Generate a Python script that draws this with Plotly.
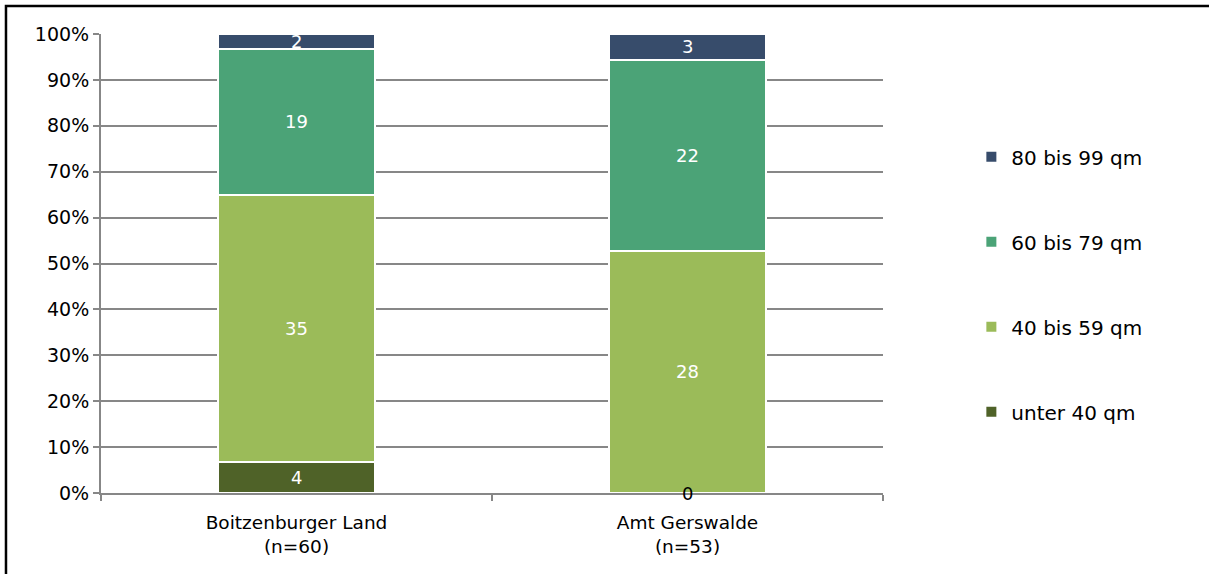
import plotly.graph_objects as go

categories = ["Boitzenburger Land<br>(n=60)", "Amt Gerswalde<br>(n=53)"]
series_names = ["unter 40 qm", "40 bis 59 qm", "60 bis 79 qm", "80 bis 99 qm"]
unter40 = [4, 0]
qm40_59 = [35, 28]
qm60_79 = [19, 22]
qm80_99 = [2, 3]
colors = ["#4F6228", "#9BBB59", "#4BA377", "#374C6B"]
y_ticks = [0, 10, 20, 30, 40, 50, 60, 70, 80, 90, 100]
y_tick_labels = [f"{v}%" for v in y_ticks]

series = [unter40, qm40_59, qm60_79, qm80_99]
totals = [sum(s[i] for s in series) for i in range(len(categories))]
pcts = [[v / totals[i] * 100 for i, v in enumerate(s)] for s in series]

FONT = "DejaVu Sans"
fig = go.Figure()
n = len(series_names)
for k, (name, p) in enumerate(zip(series_names, pcts)):
    fig.add_trace(go.Bar(
        x=categories, y=p, name=name,
        marker=dict(color=colors[k], line=dict(color="white", width=2)),
        legendgroup=name, legendrank=n - k, hoverinfo="skip",
    ))

annotations = []
for i, cat in enumerate(categories):
    base = 0
    for k, s in enumerate(series):
        p = pcts[k][i]
        annotations.append(dict(
            x=cat, y=base + p / 2, xref="x", yref="y", text=str(s[i]),
            showarrow=False,
            font=dict(family=FONT, size=18, color="white" if s[i] > 0 else "black"),
        ))
        base += p

fig.update_layout(
    barmode="stack", bargap=0.6,
    width=1209, height=574,
    margin=dict(l=101, r=326, t=34, b=81),
    paper_bgcolor="white", plot_bgcolor="white",
    font=dict(family=FONT, size=18, color="black"),
    showlegend=True,
    legend=dict(x=1.113, y=0.775, xanchor="left", yanchor="top",
                traceorder="grouped", tracegroupgap=56,
                font=dict(family=FONT, size=20), itemwidth=30),
    annotations=annotations,
    shapes=[dict(type="rect", xref="paper", yref="paper",
                 x0=-0.1215, x1=1.8, y0=1.061, y1=-0.5,
                 line=dict(color="black", width=2.5), layer="below")],
)
fig.update_yaxes(range=[0, 100], tickmode="array", tickvals=y_ticks,
                 ticktext=y_tick_labels,
                 showgrid=True, gridcolor="#878787", gridwidth=2,
                 showline=True, linecolor="#878787", linewidth=2,
                 ticks="outside", ticklen=6, tickcolor="#878787", tickwidth=2,
                 zeroline=False, tickfont=dict(size=19))
fig.update_xaxes(showline=True, linecolor="#878787", linewidth=2,
                 ticks="outside", tickson="boundaries", ticklen=6,
                 tickcolor="#878787", tickwidth=2, tickfont=dict(size=18.5),
                 ticklabelstandoff=12)

fig.write_html("out.html")
